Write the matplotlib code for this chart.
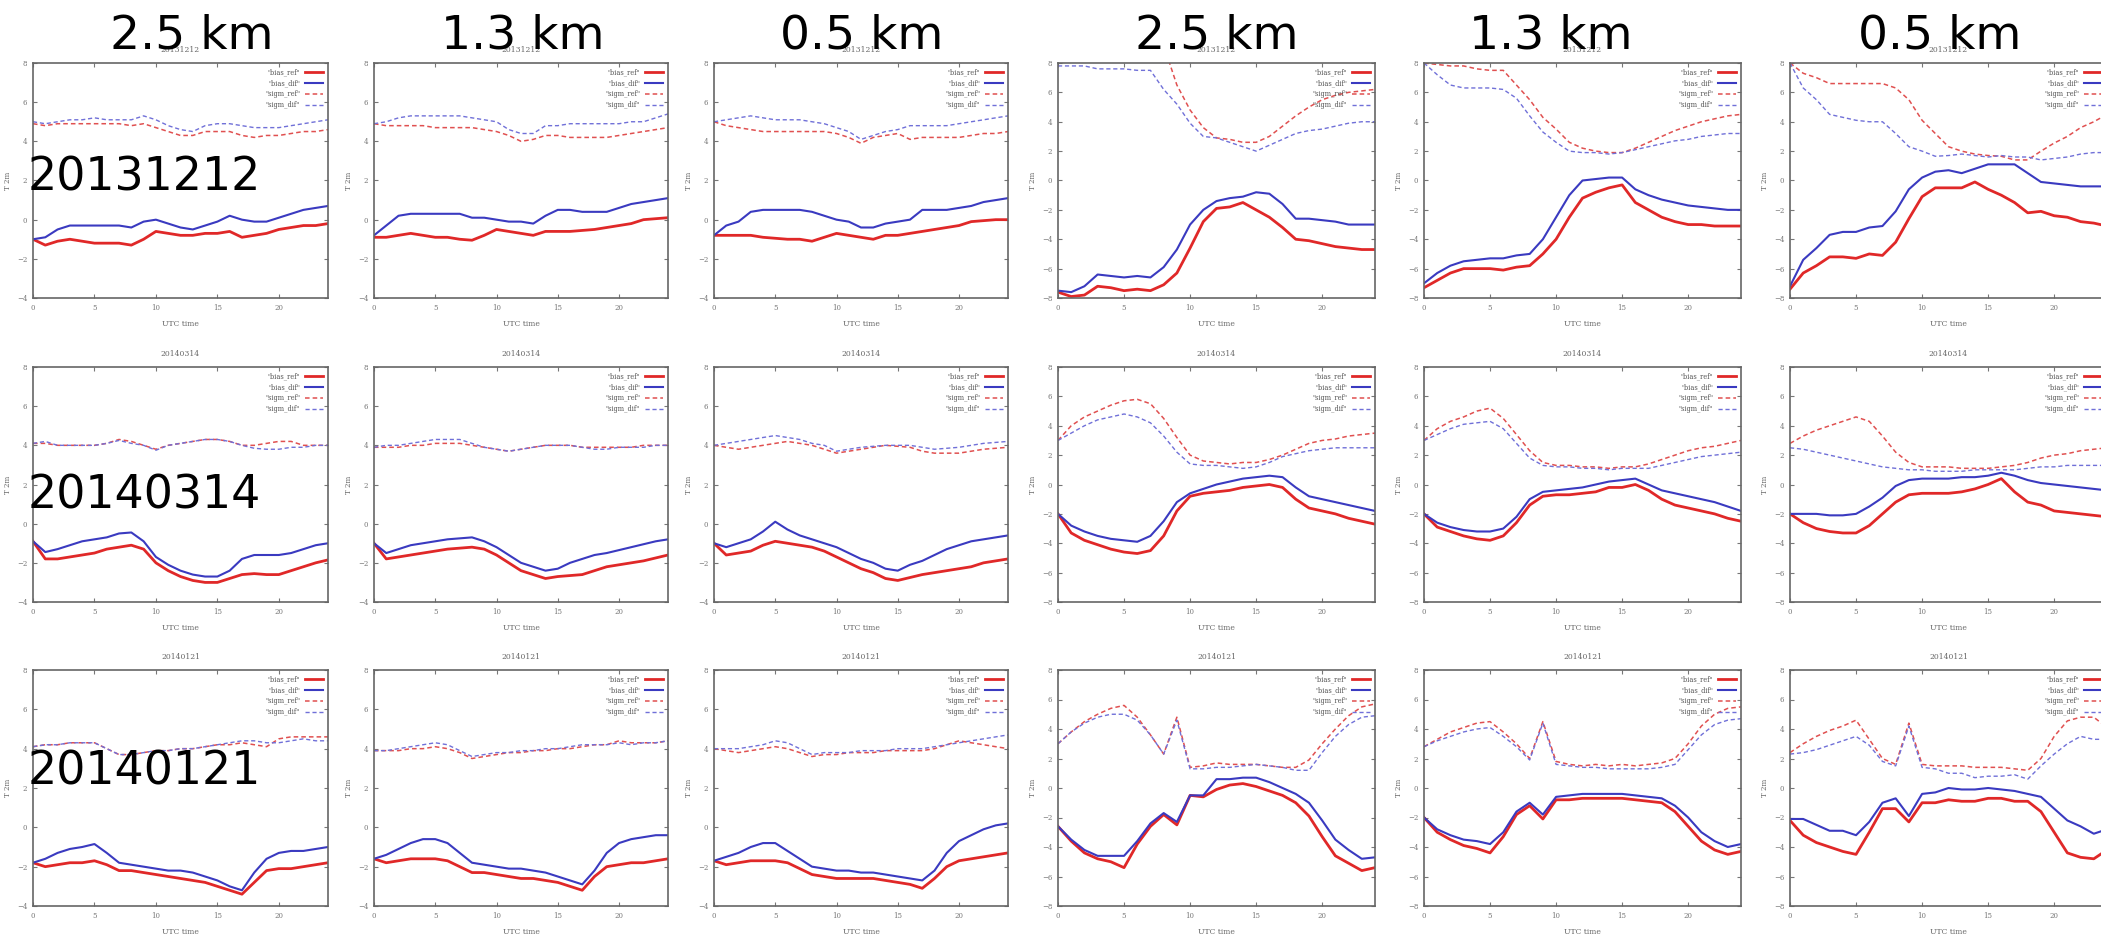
import numpy as np
import matplotlib.pyplot as plt

hours = list(range(25))

# big labels
res_labels = ['2.5 km', '1.3 km', '0.5 km', '2.5 km', '1.3 km', '0.5 km']
dates = ['20131212', '20140314', '20140121']

# ---- row 1 : 20131212 ----
r1c1_bias_ref = [-1.0, -1.3, -1.1, -1.0, -1.1, -1.2, -1.2, -1.2, -1.3, -1.0, -0.6, -0.7, -0.8, -0.8, -0.7, -0.7, -0.6, -0.9, -0.8, -0.7, -0.5, -0.4, -0.3, -0.3, -0.2]
r1c1_bias_dif = [-1.0, -0.9, -0.5, -0.3, -0.3, -0.3, -0.3, -0.3, -0.4, -0.1, 0.0, -0.2, -0.4, -0.5, -0.3, -0.1, 0.2, 0.0, -0.1, -0.1, 0.1, 0.3, 0.5, 0.6, 0.7]
r1c1_sigm_ref = [4.9, 4.8, 4.9, 4.9, 4.9, 4.9, 4.9, 4.9, 4.8, 4.9, 4.7, 4.5, 4.3, 4.3, 4.5, 4.5, 4.5, 4.3, 4.2, 4.3, 4.3, 4.4, 4.5, 4.5, 4.6]
r1c1_sigm_dif = [5.0, 4.9, 5.0, 5.1, 5.1, 5.2, 5.1, 5.1, 5.1, 5.3, 5.1, 4.8, 4.6, 4.5, 4.8, 4.9, 4.9, 4.8, 4.7, 4.7, 4.7, 4.8, 4.9, 5.0, 5.1]

r1c2_bias_ref = [-0.9, -0.9, -0.8, -0.7, -0.8, -0.9, -0.9, -1.0, -1.05, -0.8, -0.5, -0.6, -0.7, -0.8, -0.6, -0.6, -0.6, -0.55, -0.5, -0.4, -0.3, -0.2, 0.0, 0.05, 0.1]
r1c2_bias_dif = [-0.8, -0.3, 0.2, 0.3, 0.3, 0.3, 0.3, 0.3, 0.1, 0.1, 0.0, -0.1, -0.1, -0.2, 0.2, 0.5, 0.5, 0.4, 0.4, 0.4, 0.6, 0.8, 0.9, 1.0, 1.1]
r1c2_sigm_ref = [4.9, 4.8, 4.8, 4.8, 4.8, 4.7, 4.7, 4.7, 4.7, 4.6, 4.5, 4.3, 4.0, 4.1, 4.3, 4.3, 4.2, 4.2, 4.2, 4.2, 4.3, 4.4, 4.5, 4.6, 4.7]
r1c2_sigm_dif = [4.9, 5.0, 5.2, 5.3, 5.3, 5.3, 5.3, 5.3, 5.2, 5.1, 5.0, 4.6, 4.4, 4.4, 4.8, 4.8, 4.9, 4.9, 4.9, 4.9, 4.9, 5.0, 5.0, 5.2, 5.4]

r1c3_bias_ref = [-0.8, -0.8, -0.8, -0.8, -0.9, -0.95, -1.0, -1.0, -1.1, -0.9, -0.7, -0.8, -0.9, -1.0, -0.8, -0.8, -0.7, -0.6, -0.5, -0.4, -0.3, -0.1, -0.05, 0.0, 0.0]
r1c3_bias_dif = [-0.8, -0.3, -0.1, 0.4, 0.5, 0.5, 0.5, 0.5, 0.4, 0.2, 0.0, -0.1, -0.4, -0.4, -0.2, -0.1, 0.0, 0.5, 0.5, 0.5, 0.6, 0.7, 0.9, 1.0, 1.1]
r1c3_sigm_ref = [5.0, 4.8, 4.7, 4.6, 4.5, 4.5, 4.5, 4.5, 4.5, 4.5, 4.4, 4.2, 3.9, 4.2, 4.3, 4.4, 4.1, 4.2, 4.2, 4.2, 4.2, 4.3, 4.4, 4.4, 4.5]
r1c3_sigm_dif = [5.0, 5.1, 5.2, 5.3, 5.2, 5.1, 5.1, 5.1, 5.0, 4.9, 4.7, 4.5, 4.1, 4.3, 4.5, 4.6, 4.8, 4.8, 4.8, 4.8, 4.9, 5.0, 5.1, 5.2, 5.3]

r1c4_bias_ref = [-7.6, -7.9, -7.8, -7.2, -7.3, -7.5, -7.4, -7.5, -7.1, -6.3, -4.6, -2.8, -1.9, -1.8, -1.5, -2.0, -2.5, -3.2, -4.0, -4.1, -4.3, -4.5, -4.6, -4.7, -4.7]
r1c4_bias_dif = [-7.5, -7.6, -7.2, -6.4, -6.5, -6.6, -6.5, -6.6, -5.9, -4.7, -3.0, -2.0, -1.4, -1.2, -1.1, -0.8, -0.9, -1.6, -2.6, -2.6, -2.7, -2.8, -3.0, -3.0, -3.0]
r1c4_sigm_ref = [9.5, 9.5, 9.5, 9.5, 9.5, 9.5, 9.5, 9.5, 9.2, 6.5, 4.8, 3.6, 2.9, 2.8, 2.6, 2.6, 3.0, 3.7, 4.4, 5.0, 5.5, 5.8, 6.0, 6.1, 6.2]
r1c4_sigm_dif = [7.8, 7.8, 7.8, 7.6, 7.6, 7.6, 7.5, 7.5, 6.2, 5.2, 3.9, 3.0, 2.9, 2.6, 2.3, 2.0, 2.4, 2.8, 3.2, 3.4, 3.5, 3.7, 3.9, 4.0, 4.0]

r1c5_bias_ref = [-7.3, -6.8, -6.3, -6.0, -6.0, -6.0, -6.1, -5.9, -5.8, -5.0, -4.0, -2.5, -1.2, -0.8, -0.5, -0.3, -1.5, -2.0, -2.5, -2.8, -3.0, -3.0, -3.1, -3.1, -3.1]
r1c5_bias_dif = [-7.0, -6.3, -5.8, -5.5, -5.4, -5.3, -5.3, -5.1, -5.0, -4.0, -2.5, -1.0, 0.0, 0.1, 0.2, 0.2, -0.6, -1.0, -1.3, -1.5, -1.7, -1.8, -1.9, -2.0, -2.0]
r1c5_sigm_ref = [8.0, 7.9, 7.8, 7.8, 7.6, 7.5, 7.5, 6.5, 5.5, 4.3, 3.5, 2.6, 2.2, 2.0, 1.9, 1.9, 2.2, 2.6, 3.0, 3.4, 3.7, 4.0, 4.2, 4.4, 4.5]
r1c5_sigm_dif = [8.0, 7.2, 6.5, 6.3, 6.3, 6.3, 6.2, 5.6, 4.4, 3.3, 2.6, 2.0, 1.9, 1.9, 1.8, 1.9, 2.1, 2.3, 2.5, 2.7, 2.8, 3.0, 3.1, 3.2, 3.2]

r1c6_bias_ref = [-7.4, -6.3, -5.8, -5.2, -5.2, -5.3, -5.0, -5.1, -4.2, -2.6, -1.1, -0.5, -0.5, -0.5, -0.1, -0.6, -1.0, -1.5, -2.2, -2.1, -2.4, -2.5, -2.8, -2.9, -3.1]
r1c6_bias_dif = [-7.2, -5.4, -4.6, -3.7, -3.5, -3.5, -3.2, -3.1, -2.1, -0.6, 0.2, 0.6, 0.7, 0.5, 0.8, 1.1, 1.1, 1.1, 0.5, -0.1, -0.2, -0.3, -0.4, -0.4, -0.4]
r1c6_sigm_ref = [8.0, 7.3, 7.0, 6.6, 6.6, 6.6, 6.6, 6.6, 6.3, 5.5, 4.1, 3.2, 2.3, 2.0, 1.8, 1.7, 1.65, 1.4, 1.4, 2.0, 2.55, 3.0, 3.6, 4.0, 4.5]
r1c6_sigm_dif = [8.0, 6.3, 5.5, 4.5, 4.3, 4.1, 4.0, 4.0, 3.2, 2.3, 2.0, 1.65, 1.7, 1.8, 1.7, 1.6, 1.7, 1.6, 1.6, 1.4, 1.5, 1.6, 1.8, 1.9, 1.9]

# ---- row 2 : 20140314 ----
r2c1_bias_ref = [-0.9, -1.8, -1.8, -1.7, -1.6, -1.5, -1.3, -1.2, -1.1, -1.3, -2.0, -2.4, -2.7, -2.9, -3.0, -3.0, -2.8, -2.6, -2.55, -2.6, -2.6, -2.4, -2.2, -2.0, -1.85]
r2c1_bias_dif = [-0.9, -1.45, -1.3, -1.1, -0.9, -0.8, -0.7, -0.5, -0.45, -0.9, -1.7, -2.1, -2.4, -2.6, -2.7, -2.7, -2.4, -1.8, -1.6, -1.6, -1.6, -1.5, -1.3, -1.1, -1.0]
r2c1_sigm_ref = [4.1, 4.1, 4.0, 4.0, 4.0, 4.0, 4.1, 4.3, 4.2, 4.0, 3.8, 4.0, 4.1, 4.2, 4.3, 4.3, 4.2, 4.0, 4.0, 4.1, 4.2, 4.2, 4.0, 4.0, 4.0]
r2c1_sigm_dif = [4.1, 4.2, 4.0, 4.0, 4.0, 4.0, 4.1, 4.25, 4.1, 4.0, 3.75, 4.0, 4.1, 4.2, 4.3, 4.3, 4.2, 4.0, 3.85, 3.8, 3.8, 3.9, 3.9, 4.0, 4.0]

r2c2_bias_ref = [-1.0, -1.8, -1.7, -1.6, -1.5, -1.4, -1.3, -1.25, -1.2, -1.3, -1.6, -2.0, -2.4, -2.6, -2.8, -2.7, -2.65, -2.6, -2.4, -2.2, -2.1, -2.0, -1.9, -1.75, -1.6]
r2c2_bias_dif = [-1.0, -1.5, -1.3, -1.1, -1.0, -0.9, -0.8, -0.75, -0.7, -0.9, -1.2, -1.6, -2.0, -2.2, -2.4, -2.3, -2.0, -1.8, -1.6, -1.5, -1.35, -1.2, -1.05, -0.9, -0.8]
r2c2_sigm_ref = [3.9, 3.9, 3.9, 4.0, 4.0, 4.1, 4.1, 4.1, 4.0, 3.9, 3.8, 3.7, 3.8, 3.9, 4.0, 4.0, 4.0, 3.9, 3.9, 3.9, 3.9, 3.9, 4.0, 4.0, 4.0]
r2c2_sigm_dif = [3.9, 4.0, 4.0, 4.1, 4.2, 4.3, 4.3, 4.3, 4.1, 3.9, 3.8, 3.7, 3.8, 3.9, 4.0, 4.0, 4.0, 3.9, 3.8, 3.8, 3.9, 3.9, 3.9, 4.0, 4.0]

r2c3_bias_ref = [-1.0, -1.6, -1.5, -1.4, -1.1, -0.9, -1.0, -1.1, -1.2, -1.4, -1.7, -2.0, -2.3, -2.5, -2.8, -2.9, -2.75, -2.6, -2.5, -2.4, -2.3, -2.2, -2.0, -1.9, -1.8]
r2c3_bias_dif = [-1.0, -1.2, -1.0, -0.8, -0.4, 0.1, -0.3, -0.6, -0.8, -1.0, -1.2, -1.5, -1.8, -2.0, -2.3, -2.4, -2.1, -1.9, -1.6, -1.3, -1.1, -0.9, -0.8, -0.7, -0.6]
r2c3_sigm_ref = [4.0, 3.9, 3.8, 3.9, 4.0, 4.1, 4.2, 4.1, 4.0, 3.8, 3.6, 3.7, 3.8, 3.9, 4.0, 3.95, 3.9, 3.7, 3.6, 3.6, 3.6, 3.7, 3.8, 3.85, 3.9]
r2c3_sigm_dif = [4.0, 4.1, 4.2, 4.3, 4.4, 4.5, 4.4, 4.3, 4.1, 4.0, 3.7, 3.8, 3.9, 3.95, 4.0, 4.0, 4.0, 3.9, 3.8, 3.85, 3.9, 4.0, 4.1, 4.15, 4.2]

r2c4_bias_ref = [-2.0, -3.3, -3.8, -4.1, -4.4, -4.6, -4.7, -4.5, -3.5, -1.8, -0.8, -0.6, -0.5, -0.4, -0.2, -0.1, 0.0, -0.2, -1.0, -1.6, -1.8, -2.0, -2.3, -2.5, -2.7]
r2c4_bias_dif = [-2.0, -2.8, -3.2, -3.5, -3.7, -3.8, -3.9, -3.5, -2.5, -1.2, -0.6, -0.3, 0.0, 0.2, 0.4, 0.5, 0.6, 0.5, -0.2, -0.8, -1.0, -1.2, -1.4, -1.6, -1.8]
r2c4_sigm_ref = [3.0, 4.0, 4.6, 5.0, 5.4, 5.7, 5.8, 5.5, 4.5, 3.2, 2.0, 1.6, 1.5, 1.4, 1.5, 1.5, 1.7, 2.0, 2.4, 2.8, 3.0, 3.1, 3.3, 3.4, 3.5]
r2c4_sigm_dif = [3.0, 3.5, 4.0, 4.4, 4.6, 4.8, 4.6, 4.2, 3.3, 2.2, 1.4, 1.3, 1.3, 1.2, 1.1, 1.2, 1.5, 1.9, 2.1, 2.3, 2.4, 2.5, 2.5, 2.5, 2.5]

r2c5_bias_ref = [-2.0, -2.9, -3.2, -3.5, -3.7, -3.8, -3.5, -2.6, -1.4, -0.8, -0.7, -0.7, -0.6, -0.5, -0.2, -0.2, 0.0, -0.4, -1.0, -1.4, -1.6, -1.8, -2.0, -2.3, -2.5]
r2c5_bias_dif = [-2.0, -2.6, -2.9, -3.1, -3.2, -3.2, -3.0, -2.2, -1.0, -0.5, -0.4, -0.3, -0.2, 0.0, 0.2, 0.3, 0.4, 0.0, -0.4, -0.6, -0.8, -1.0, -1.2, -1.5, -1.8]
r2c5_sigm_ref = [3.0, 3.8, 4.3, 4.6, 5.0, 5.2, 4.5, 3.4, 2.3, 1.5, 1.3, 1.3, 1.2, 1.2, 1.1, 1.2, 1.2, 1.4, 1.7, 2.0, 2.3, 2.5, 2.6, 2.8, 3.0]
r2c5_sigm_dif = [3.0, 3.4, 3.8, 4.1, 4.2, 4.3, 3.8, 2.8, 1.8, 1.3, 1.2, 1.2, 1.1, 1.1, 1.0, 1.1, 1.1, 1.1, 1.3, 1.5, 1.7, 1.9, 2.0, 2.1, 2.2]

r2c6_bias_ref = [-2.0, -2.6, -3.0, -3.2, -3.3, -3.3, -2.8, -2.0, -1.2, -0.7, -0.6, -0.6, -0.6, -0.5, -0.3, 0.0, 0.4, -0.5, -1.2, -1.4, -1.8, -1.9, -2.0, -2.1, -2.2]
r2c6_bias_dif = [-2.0, -2.0, -2.0, -2.1, -2.1, -2.0, -1.5, -0.9, -0.1, 0.3, 0.4, 0.4, 0.4, 0.5, 0.5, 0.6, 0.8, 0.6, 0.3, 0.1, 0.0, -0.1, -0.2, -0.3, -0.4]
r2c6_sigm_ref = [2.8, 3.3, 3.7, 4.0, 4.3, 4.6, 4.3, 3.3, 2.2, 1.5, 1.2, 1.2, 1.2, 1.1, 1.1, 1.1, 1.2, 1.3, 1.5, 1.8, 2.0, 2.1, 2.3, 2.4, 2.5]
r2c6_sigm_dif = [2.5, 2.4, 2.2, 2.0, 1.8, 1.6, 1.4, 1.2, 1.1, 1.0, 1.0, 0.9, 0.9, 0.9, 1.0, 1.0, 1.0, 1.0, 1.1, 1.2, 1.2, 1.3, 1.3, 1.3, 1.3]

# ---- row 3 : 20140121 ----
r3c1_bias_ref = [-1.8, -2.0, -1.9, -1.8, -1.8, -1.7, -1.9, -2.2, -2.2, -2.3, -2.4, -2.5, -2.6, -2.7, -2.8, -3.0, -3.2, -3.4, -2.8, -2.2, -2.1, -2.1, -2.0, -1.9, -1.8]
r3c1_bias_dif = [-1.8, -1.6, -1.3, -1.1, -1.0, -0.85, -1.3, -1.8, -1.9, -2.0, -2.1, -2.2, -2.2, -2.3, -2.5, -2.7, -3.0, -3.2, -2.3, -1.6, -1.3, -1.2, -1.2, -1.1, -1.0]
r3c1_sigm_ref = [4.1, 4.2, 4.2, 4.3, 4.3, 4.3, 4.0, 3.7, 3.7, 3.8, 3.9, 3.9, 4.0, 4.0, 4.1, 4.2, 4.2, 4.3, 4.2, 4.1, 4.5, 4.6, 4.6, 4.6, 4.6]
r3c1_sigm_dif = [4.1, 4.2, 4.2, 4.3, 4.3, 4.3, 4.0, 3.7, 3.7, 3.8, 3.9, 3.9, 4.0, 4.0, 4.1, 4.2, 4.3, 4.4, 4.4, 4.3, 4.3, 4.4, 4.5, 4.4, 4.4]

r3c2_bias_ref = [-1.6, -1.8, -1.7, -1.6, -1.6, -1.6, -1.7, -2.0, -2.3, -2.3, -2.4, -2.5, -2.6, -2.6, -2.7, -2.8, -3.0, -3.2, -2.5, -2.0, -1.9, -1.8, -1.8, -1.7, -1.6]
r3c2_bias_dif = [-1.6, -1.4, -1.1, -0.8, -0.6, -0.6, -0.8, -1.3, -1.8, -1.9, -2.0, -2.1, -2.1, -2.2, -2.3, -2.5, -2.7, -2.9, -2.2, -1.3, -0.8, -0.6, -0.5, -0.4, -0.4]
r3c2_sigm_ref = [3.9, 3.9, 3.9, 4.0, 4.0, 4.1, 4.0, 3.8, 3.5, 3.6, 3.7, 3.8, 3.8, 3.9, 3.9, 4.0, 4.0, 4.1, 4.2, 4.2, 4.4, 4.3, 4.3, 4.3, 4.4]
r3c2_sigm_dif = [3.9, 3.9, 4.0, 4.1, 4.2, 4.3, 4.2, 3.9, 3.6, 3.7, 3.8, 3.8, 3.9, 3.9, 4.0, 4.0, 4.1, 4.2, 4.2, 4.2, 4.3, 4.2, 4.3, 4.3, 4.4]

r3c3_bias_ref = [-1.7, -1.9, -1.8, -1.7, -1.7, -1.7, -1.8, -2.1, -2.4, -2.5, -2.6, -2.6, -2.6, -2.6, -2.7, -2.8, -2.9, -3.1, -2.6, -2.0, -1.7, -1.6, -1.5, -1.4, -1.3]
r3c3_bias_dif = [-1.7, -1.5, -1.3, -1.0, -0.8, -0.8, -1.2, -1.6, -2.0, -2.1, -2.2, -2.2, -2.3, -2.3, -2.4, -2.5, -2.6, -2.7, -2.2, -1.3, -0.7, -0.4, -0.1, 0.1, 0.2]
r3c3_sigm_ref = [4.0, 3.9, 3.8, 3.9, 4.0, 4.1, 4.0, 3.8, 3.6, 3.7, 3.7, 3.8, 3.8, 3.8, 3.9, 3.9, 3.9, 3.9, 4.0, 4.2, 4.4, 4.3, 4.2, 4.1, 4.0]
r3c3_sigm_dif = [4.0, 4.0, 4.0, 4.1, 4.2, 4.4, 4.3, 4.0, 3.7, 3.8, 3.8, 3.8, 3.9, 3.9, 3.9, 4.0, 4.0, 4.0, 4.1, 4.2, 4.3, 4.4, 4.5, 4.6, 4.7]

r3c4_bias_ref = [-2.6, -3.6, -4.4, -4.8, -5.0, -5.4, -3.8, -2.6, -1.8, -2.5, -0.5, -0.6, -0.1, 0.2, 0.3, 0.1, -0.2, -0.5, -1.0, -1.9, -3.3, -4.6, -5.1, -5.6, -5.4]
r3c4_bias_dif = [-2.6, -3.5, -4.2, -4.6, -4.6, -4.6, -3.6, -2.4, -1.7, -2.3, -0.5, -0.5, 0.6, 0.6, 0.7, 0.7, 0.4, 0.0, -0.4, -1.0, -2.2, -3.5, -4.2, -4.8, -4.7]
r3c4_sigm_ref = [3.0, 3.8, 4.5, 5.0, 5.4, 5.6, 4.8, 3.6, 2.3, 4.8, 1.4, 1.5, 1.7, 1.6, 1.6, 1.6, 1.5, 1.4, 1.4, 1.9, 3.0, 4.0, 4.9, 5.5, 5.7]
r3c4_sigm_dif = [3.0, 3.8, 4.4, 4.8, 5.0, 5.0, 4.6, 3.6, 2.3, 4.6, 1.3, 1.3, 1.4, 1.4, 1.5, 1.6, 1.5, 1.4, 1.2, 1.2, 2.4, 3.5, 4.3, 4.8, 4.9]

r3c5_bias_ref = [-2.0, -3.0, -3.5, -3.9, -4.1, -4.4, -3.3, -1.8, -1.2, -2.1, -0.8, -0.8, -0.7, -0.7, -0.7, -0.7, -0.8, -0.9, -1.0, -1.6, -2.6, -3.6, -4.2, -4.5, -4.3]
r3c5_bias_dif = [-2.0, -2.8, -3.2, -3.5, -3.6, -3.8, -3.0, -1.6, -1.0, -1.8, -0.6, -0.5, -0.4, -0.4, -0.4, -0.4, -0.5, -0.6, -0.7, -1.2, -2.0, -3.0, -3.6, -4.0, -3.8]
r3c5_sigm_ref = [2.8, 3.3, 3.8, 4.1, 4.4, 4.5, 3.8, 3.0, 2.0, 4.5, 1.8, 1.6, 1.5, 1.6, 1.5, 1.6, 1.5, 1.6, 1.7, 2.0, 3.0, 4.2, 5.0, 5.4, 5.5]
r3c5_sigm_dif = [2.8, 3.2, 3.5, 3.8, 4.0, 4.1, 3.5, 2.8, 1.9, 4.4, 1.6, 1.5, 1.4, 1.4, 1.3, 1.3, 1.3, 1.3, 1.4, 1.6, 2.6, 3.6, 4.3, 4.6, 4.7]

r3c6_bias_ref = [-2.2, -3.2, -3.7, -4.0, -4.3, -4.5, -3.0, -1.4, -1.4, -2.3, -1.0, -1.0, -0.8, -0.9, -0.9, -0.7, -0.7, -0.9, -0.9, -1.6, -3.0, -4.4, -4.7, -4.8, -4.2]
r3c6_bias_dif = [-2.1, -2.1, -2.5, -2.9, -2.9, -3.2, -2.3, -1.0, -0.7, -1.9, -0.4, -0.3, 0.0, -0.1, -0.1, 0.0, -0.1, -0.2, -0.4, -0.6, -1.4, -2.2, -2.6, -3.1, -2.8]
r3c6_sigm_ref = [2.4, 3.0, 3.5, 3.9, 4.2, 4.6, 3.3, 2.0, 1.6, 4.4, 1.6, 1.5, 1.5, 1.5, 1.4, 1.4, 1.4, 1.3, 1.2, 2.0, 3.5, 4.55, 4.8, 4.8, 4.1]
r3c6_sigm_dif = [2.3, 2.4, 2.6, 2.9, 3.2, 3.5, 2.9, 1.8, 1.5, 4.2, 1.4, 1.3, 1.0, 1.0, 0.7, 0.8, 0.8, 0.9, 0.6, 1.5, 2.3, 3.0, 3.5, 3.3, 3.3]

panels = [
    [(r1c1_bias_ref, r1c1_bias_dif, r1c1_sigm_ref, r1c1_sigm_dif),
     (r1c2_bias_ref, r1c2_bias_dif, r1c2_sigm_ref, r1c2_sigm_dif),
     (r1c3_bias_ref, r1c3_bias_dif, r1c3_sigm_ref, r1c3_sigm_dif),
     (r1c4_bias_ref, r1c4_bias_dif, r1c4_sigm_ref, r1c4_sigm_dif),
     (r1c5_bias_ref, r1c5_bias_dif, r1c5_sigm_ref, r1c5_sigm_dif),
     (r1c6_bias_ref, r1c6_bias_dif, r1c6_sigm_ref, r1c6_sigm_dif)],
    [(r2c1_bias_ref, r2c1_bias_dif, r2c1_sigm_ref, r2c1_sigm_dif),
     (r2c2_bias_ref, r2c2_bias_dif, r2c2_sigm_ref, r2c2_sigm_dif),
     (r2c3_bias_ref, r2c3_bias_dif, r2c3_sigm_ref, r2c3_sigm_dif),
     (r2c4_bias_ref, r2c4_bias_dif, r2c4_sigm_ref, r2c4_sigm_dif),
     (r2c5_bias_ref, r2c5_bias_dif, r2c5_sigm_ref, r2c5_sigm_dif),
     (r2c6_bias_ref, r2c6_bias_dif, r2c6_sigm_ref, r2c6_sigm_dif)],
    [(r3c1_bias_ref, r3c1_bias_dif, r3c1_sigm_ref, r3c1_sigm_dif),
     (r3c2_bias_ref, r3c2_bias_dif, r3c2_sigm_ref, r3c2_sigm_dif),
     (r3c3_bias_ref, r3c3_bias_dif, r3c3_sigm_ref, r3c3_sigm_dif),
     (r3c4_bias_ref, r3c4_bias_dif, r3c4_sigm_ref, r3c4_sigm_dif),
     (r3c5_bias_ref, r3c5_bias_dif, r3c5_sigm_ref, r3c5_sigm_dif),
     (r3c6_bias_ref, r3c6_bias_dif, r3c6_sigm_ref, r3c6_sigm_dif)],
]

series_names = ['"bias_ref"', '"bias_dif"', '"sigm_ref"', '"sigm_dif"']

# pixel boxes of the panels (figure is 2101 x 942 px)
W, H = 2101, 942
col_x = [(33, 328), (374, 668), (714, 1008), (1058, 1375), (1424, 1741), (1790, 2107)]
row_y = [(63, 298), (367, 602), (670, 906)]

fig = plt.figure(figsize=(W / 100, H / 100), dpi=100)
fig.patch.set_facecolor('white')

small = dict(family='DejaVu Serif', color='#666666')

for r in range(3):
    for c in range(6):
        x0, x1 = col_x[c]
        y0, y1 = row_y[r]
        ax = fig.add_axes([x0 / W, 1 - y1 / H, (x1 - x0) / W, (y1 - y0) / H])
        b_ref, b_dif, s_ref, s_dif = panels[r][c]
        ax.plot(hours, b_ref, color='#e02828', lw=2.0, label=series_names[0])
        ax.plot(hours, b_dif, color='#3a3ac0', lw=1.5, label=series_names[1])
        ax.plot(hours, s_ref, color='#e05050', lw=1.1, ls=(0, (3, 2)), label=series_names[2])
        ax.plot(hours, s_dif, color='#7070d8', lw=1.0, ls=(0, (3, 2)), label=series_names[3])
        ax.set_xlim(0, 24)
        if c < 3:
            ax.set_ylim(-4, 8)
            ax.set_yticks(np.arange(-4, 9, 2))
        else:
            ax.set_ylim(-8, 8)
            ax.set_yticks(np.arange(-8, 9, 2))
        ax.set_xticks([0, 5, 10, 15, 20])
        ax.tick_params(direction='in', top=True, right=True, length=3, width=0.8,
                       labelsize=5, colors='#777777', pad=4)
        for lab in ax.get_xticklabels() + ax.get_yticklabels():
            lab.set_family('DejaVu Serif')
        for sp in ax.spines.values():
            sp.set_color('#666666')
            sp.set_linewidth(1.2)
        ax.set_xlabel('UTC time', fontsize=5.5, labelpad=6, **small)
        ax.set_ylabel('T 2m', fontsize=5, labelpad=4, **small)
        ax.set_title(dates[r], fontsize=5.5, pad=8, **small)
        leg = ax.legend(loc='upper right', frameon=False, markerfirst=False,
                        handlelength=2.6, labelspacing=0.45, borderaxespad=0.4,
                        prop={'family': 'DejaVu Serif', 'size': 4.8})
        for t in leg.get_texts():
            t.set_color('#555555')

# resolution labels over the columns
label_cx = [192, 523, 862, 1217, 1551, 1940]
for cx, lab in zip(label_cx, res_labels):
    fig.text(cx / W, 1 - 36 / H, lab, fontsize=34, ha='center', va='center',
             family='DejaVu Sans', color='black')

# date labels on the first column
date_cy = [178, 496, 772]
for cy, d in zip(date_cy, dates):
    fig.text(28 / W, 1 - cy / H, d, fontsize=33, ha='left', va='center',
             family='DejaVu Sans', color='black')

fig.savefig('out.png', dpi=100)
